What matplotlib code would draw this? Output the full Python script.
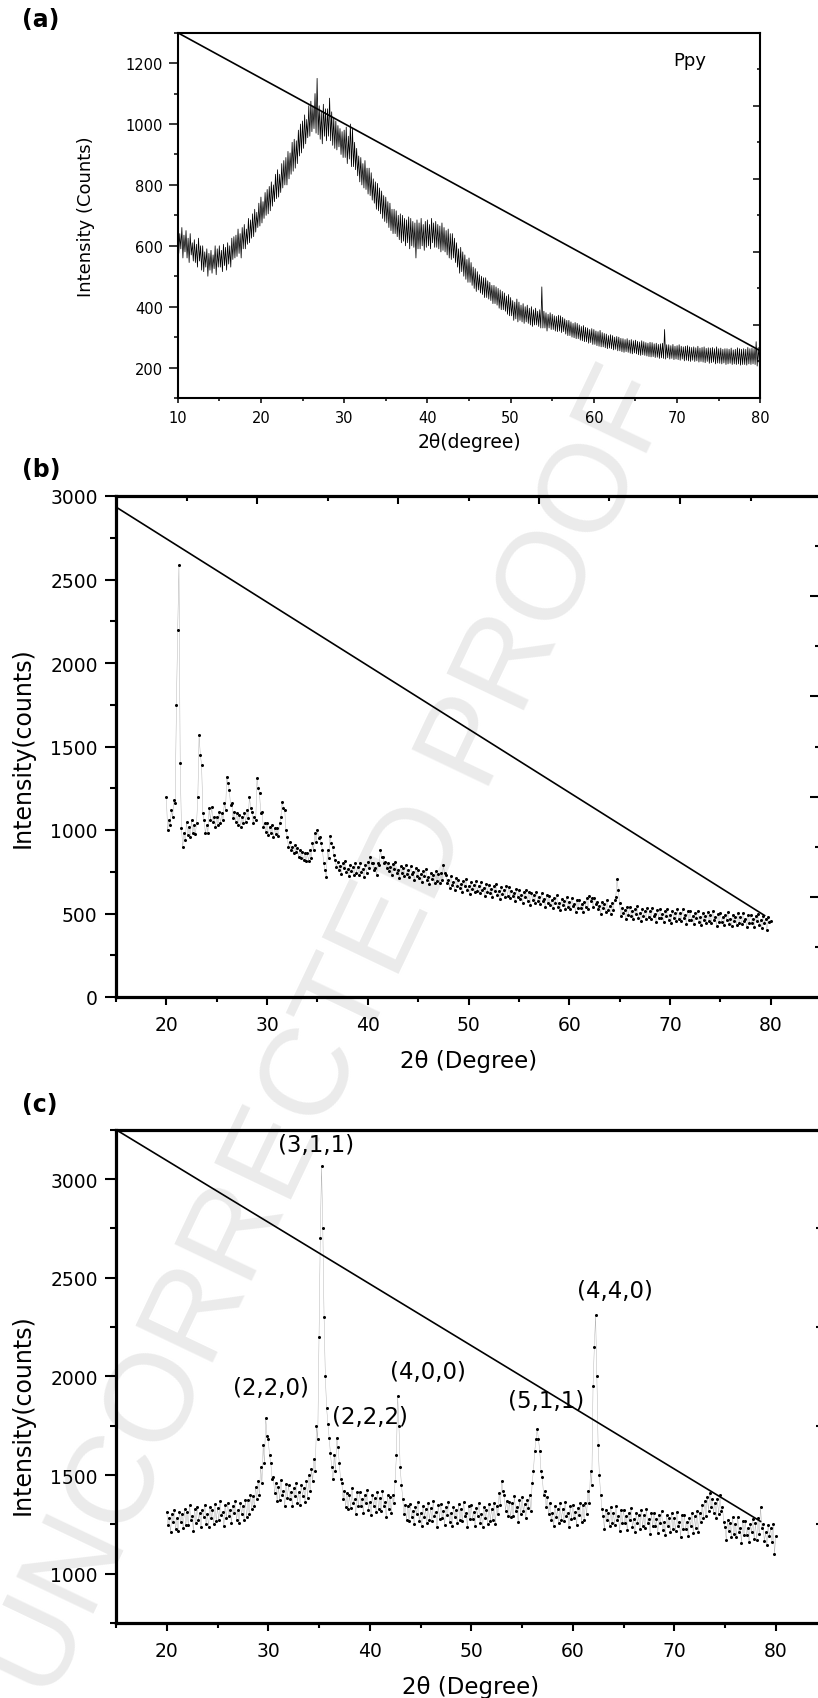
import matplotlib
matplotlib.use('Agg')
import matplotlib.pyplot as plt
import numpy as np
from matplotlib.ticker import MultipleLocator, FixedLocator

plt.rcParams['font.family'] = ['DejaVu Sans']

W, H = 818, 1699   # output size in pixels

# ---------------- data ----------------
# each scan is read as an upper trace (at 0.00/.25/.50/.75 deg)
# and a lower trace (at .125/.375/.625/.875 deg), one row per degree

# (a) Ppy, 10..80 deg
a_start = 10
a_up = [
    670, 640, 660, 635,  650, 625, 640, 610,  620, 605, 625, 600,  600, 580, 590, 575,
    585, 570, 600, 590,  600, 585, 605, 595,  610, 600, 625, 630,  635, 655, 640, 660,
    670, 655, 690, 685,  705, 720, 710, 740,  760, 745, 775, 785,  795, 810, 800, 835,
    850, 835, 870, 880,  890, 910, 905, 940,  950, 945, 980, 1000, 1010, 1030, 1015, 1060,
    1075, 1060, 1100, 1150, 1060, 1040, 1065, 1050, 1050, 1085, 1040, 1020, 1010, 995, 985, 975,
    980, 990, 960, 1000, 985, 940, 920, 895,  890, 870, 880, 855,  855, 840, 820, 810,
    805, 790, 780, 765,  760, 745, 740, 720,  720, 715, 700, 705,  700, 690, 685, 695,
    690, 680, 675, 685,  675, 690, 670, 680,  685, 670, 690, 675,  680, 670, 665, 675,
    660, 650, 655, 640,  640, 625, 610, 590,  595, 580, 570, 555,  560, 545, 530, 525,
    515, 505, 500, 495,  495, 485, 480, 470,  470, 465, 460, 455,  450, 445, 435, 440,
    430, 420, 415, 425,  415, 405, 410, 400,  405, 395, 400, 390,  395, 385, 390, 465,
    385, 380, 375, 380,  375, 370, 368, 372,  370, 365, 360, 355,  355, 350, 345, 348,
    345, 340, 335, 338,  332, 330, 325, 328,  325, 320, 318, 322,  315, 312, 310, 305,
    308, 305, 300, 302,  300, 296, 295, 292,  295, 290, 292, 288,  290, 286, 284, 288,
    285, 282, 280, 283,  282, 278, 280, 276,  278, 280, 325, 275,  275, 272, 276, 270,
    272, 275, 270, 268,  270, 272, 268, 266,  268, 265, 270, 264,  266, 268, 263, 265,
    264, 266, 262, 268,  262, 264, 260, 262,  262, 260, 264, 258,  260, 265, 262, 260,
    262, 260, 266, 262,  264, 262, 285, 266,  250]
a_lo = [
    575, 590, 560, 580,  560, 545, 570, 550,  545, 530, 550, 520,  515, 530, 500, 520,
    510, 525, 505, 530,  530, 515, 535, 520,  540, 530, 555, 560,  565, 575, 560, 590,
    590, 605, 610, 625,  630, 645, 660, 665,  675, 690, 700, 705,  715, 730, 745, 755,
    760, 775, 790, 800,  800, 820, 835, 845,  855, 870, 895, 905,  920, 935, 955, 960,
    975, 985, 970, 965,  950, 935, 960, 945,  960, 945, 930, 920,  915, 925, 900, 890,
    890, 870, 885, 860,  860, 850, 830, 810,  800, 790, 785, 770,  765, 750, 740, 720,
    715, 705, 690, 680,  675, 660, 650, 640,  640, 630, 620, 610,  615, 600, 610, 590,
    600, 595, 560, 590,  590, 600, 585, 595,  600, 590, 610, 595,  595, 590, 580, 585,
    580, 570, 560, 555,  560, 545, 530, 510,  515, 500, 490, 480,  480, 470, 460, 450,
    455, 445, 440, 430,  430, 425, 420, 410,  410, 405, 395, 390,  390, 385, 375, 370,
    370, 355, 360, 350,  355, 350, 345, 350,  345, 340, 335, 340,  340, 335, 330, 330,
    330, 320, 330, 325,  325, 320, 318, 320,  315, 318, 310, 305,  305, 300, 298, 295,
    295, 290, 288, 285,  285, 280, 282, 276,  276, 272, 270, 268,  268, 265, 262, 264,
    262, 258, 260, 255,  255, 252, 250, 252,  250, 247, 245, 248,  245, 242, 240, 242,
    240, 238, 236, 235,  236, 233, 234, 230,  232, 230, 228, 232,  228, 230, 226, 228,
    226, 224, 228, 222,  224, 222, 220, 224,  220, 222, 218, 220,  218, 216, 220, 214,
    216, 218, 212, 215,  214, 212, 215, 210,  212, 214, 210, 212,  210, 212, 208, 210,
    210, 208, 212, 210,  212, 210, 205, 215]
line_a_x = [10, 80]
line_a_y = [1300, 255]

# (b) 20..80 deg
b_start = 20
b_up = [
    1200, 1060, 1120, 1180,  1750, 2585, 1010, 980,   1050, 1020, 1060, 1030,  1040, 1570, 1390, 1060,
    1030, 1130, 1140, 1080,  1080, 1110, 1100, 1160,  1320, 1240, 1160, 1110,  1100, 1090, 1080, 1100,
    1120, 1200, 1110, 1080,  1310, 1220, 1110, 1040,  1040, 1020, 1030, 1010,  1010, 1040, 1170, 1120,
    960, 930, 900, 910,      890, 880, 870, 860,      860, 880, 920, 980,     1000, 960, 880, 760,
    880, 965, 900, 820,      810, 785, 800, 815,      767, 792, 777, 800,     778, 800, 766, 788,
    810, 840, 800, 770,      800, 880, 840, 810,      805, 780, 795, 810,     760, 785, 770, 793,
    762, 784, 750, 772,      763, 738, 753, 768,      720, 745, 730, 753,     735, 740, 790, 730,
    700, 722, 688, 710,      703, 678, 693, 708,      662, 687, 672, 695,     667, 689, 655, 677,
    672, 647, 662, 677,      632, 657, 642, 665,      660, 637, 623, 645,     638, 613, 628, 643,
    630, 623, 608, 631,      600, 622, 588, 610,      603, 578, 593, 608,     563, 588, 573, 596,
    570, 592, 558, 580,      580, 555, 570, 590,      605, 590, 595, 570,     545, 570, 555, 578,
    545, 565, 580, 705,      560, 532, 518, 540,      538, 513, 528, 543,     502, 527, 512, 535,
    512, 534, 500, 522,      524, 499, 514, 529,      491, 516, 501, 524,     502, 524, 490, 512,
    512, 487, 502, 517,      478, 503, 488, 511,      490, 512, 478, 500,     502, 477, 492, 507,
    469, 494, 479, 502,      481, 503, 469, 491,      493, 468, 483, 498,     460, 485, 470, 480,
    455]
b_lo = [
    1000, 1030, 1080, 1160,  2200, 1400, 900, 940,    970, 960, 985, 975,     1200, 1450, 1100, 980,
    985, 1060, 1050, 1020,   1030, 1040, 1060, 1120,  1280, 1150, 1070, 1050,  1030, 1020, 1040, 1045,
    1070, 1130, 1040, 1060,  1250, 1100, 1020, 990,   970, 980, 960, 975,     965, 1080, 1130, 1000,
    900, 880, 860, 870,      840, 830, 820, 815,      815, 830, 880, 930,     950, 920, 800, 720,
    830, 920, 850, 780,      760, 737, 770, 747,      722, 752, 732, 742,     733, 750, 716, 740,
    770, 800, 760, 730,      790, 840, 800, 770,      755, 732, 765, 742,     715, 745, 725, 735,
    717, 734, 700, 724,      713, 690, 723, 700,      675, 705, 685, 695,     685, 700, 740, 680,
    655, 672, 638, 662,      653, 630, 663, 640,      617, 647, 627, 637,     622, 639, 605, 629,
    622, 599, 632, 609,      587, 617, 597, 607,      590, 607, 573, 597,     588, 565, 598, 575,
    553, 583, 563, 573,      555, 572, 538, 562,      553, 530, 563, 540,     518, 548, 528, 538,
    525, 542, 508, 532,      530, 507, 540, 525,      575, 540, 555, 525,     500, 530, 510, 520,
    500, 520, 600, 640,      485, 502, 468, 492,      488, 465, 498, 475,     457, 487, 467, 477,
    467, 484, 450, 474,      474, 451, 484, 461,      446, 476, 456, 466,     457, 474, 440, 464,
    462, 439, 472, 449,      433, 463, 443, 453,      445, 462, 428, 452,     452, 429, 462, 439,
    424, 454, 434, 444,      436, 453, 419, 443,      443, 420, 453, 430,     415, 445, 400, 450]
line_b_x = [15, 79.4]
line_b_y = [2934, 488]

# (c) 20..80 deg
c_start = 20
c_up = [
    1315, 1280, 1300, 1325,  1280, 1315, 1300, 1330,  1312, 1347, 1292, 1327,  1340, 1305, 1325, 1350,
    1303, 1338, 1323, 1353,  1335, 1370, 1315, 1350,  1360, 1325, 1345, 1370,  1323, 1358, 1343, 1373,
    1375, 1400, 1395, 1440,  1470, 1540, 1650, 1790,  1680, 1560, 1490, 1460,  1438, 1473, 1418, 1453,
    1450, 1415, 1435, 1460,  1415, 1450, 1435, 1470,  1500, 1530, 1580, 1750,  2200, 3065, 2300, 1840,
    1690, 1540, 1600, 1690,  1560, 1460, 1420, 1410,  1398, 1433, 1378, 1413,  1412, 1377, 1397, 1422,
    1363, 1398, 1383, 1413,  1382, 1417, 1362, 1397,  1390, 1400, 1470, 1900,  1540, 1380, 1350, 1345,
    1355, 1320, 1340, 1365,  1307, 1342, 1327, 1357,  1332, 1367, 1312, 1347,  1352, 1317, 1337, 1362,
    1305, 1340, 1325, 1355,  1330, 1365, 1310, 1345,  1348, 1313, 1333, 1358,  1303, 1338, 1323, 1353,
    1330, 1360, 1345, 1410,  1470, 1400, 1370, 1365,  1358, 1393, 1338, 1373,  1388, 1353, 1373, 1400,
    1460, 1620, 1735, 1620,  1490, 1420, 1390, 1360,  1307, 1342, 1327, 1357,  1330, 1365, 1310, 1345,
    1350, 1315, 1335, 1360,  1350, 1360, 1420, 1520,  1950, 2310, 1650, 1400,  1290, 1325, 1310, 1340,
    1310, 1345, 1290, 1325,  1325, 1290, 1310, 1335,  1275, 1310, 1295, 1325,  1295, 1330, 1275, 1310,
    1310, 1275, 1295, 1320,  1260, 1295, 1280, 1310,  1280, 1315, 1260, 1295,  1297, 1262, 1282, 1307,
    1290, 1320, 1305, 1350,  1370, 1390, 1410, 1380,  1360, 1380, 1400, 1340,  1237, 1272, 1257, 1287,
    1252, 1287, 1232, 1267,  1265, 1230, 1250, 1275,  1255, 1280, 1340, 1250,  1210, 1245, 1230, 1250,
    1190]
c_lo = [
    1245, 1210, 1260, 1225,  1215, 1260, 1230, 1245,  1247, 1272, 1217, 1257,  1270, 1235, 1285, 1250,
    1238, 1283, 1253, 1268,  1270, 1295, 1240, 1280,  1290, 1255, 1305, 1270,  1258, 1303, 1273, 1288,
    1300, 1330, 1345, 1380,  1400, 1460, 1560, 1700,  1600, 1480, 1410, 1370,  1373, 1398, 1343, 1383,
    1380, 1345, 1395, 1360,  1350, 1395, 1365, 1385,  1420, 1470, 1520, 1680,  2700, 2750, 2000, 1760,
    1610, 1480, 1520, 1640,  1480, 1380, 1340, 1330,  1333, 1358, 1303, 1343,  1342, 1307, 1357, 1322,
    1298, 1343, 1313, 1328,  1317, 1342, 1287, 1327,  1305, 1360, 1600, 1750,  1450, 1300, 1270, 1265,
    1285, 1250, 1300, 1265,  1242, 1287, 1257, 1272,  1267, 1292, 1237, 1277,  1282, 1247, 1297, 1262,
    1240, 1285, 1255, 1270,  1265, 1290, 1235, 1275,  1278, 1243, 1293, 1258,  1238, 1283, 1253, 1268,
    1270, 1250, 1300, 1350,  1420, 1320, 1290, 1285,  1293, 1318, 1263, 1303,  1318, 1283, 1333, 1320,
    1520, 1680, 1680, 1520,  1400, 1340, 1300, 1270,  1242, 1287, 1257, 1272,  1265, 1290, 1235, 1275,
    1280, 1245, 1295, 1260,  1270, 1300, 1360, 1450,  2150, 2000, 1500, 1330,  1225, 1270, 1240, 1255,
    1245, 1270, 1215, 1255,  1255, 1220, 1270, 1235,  1210, 1255, 1225, 1240,  1230, 1255, 1200, 1240,
    1240, 1205, 1255, 1220,  1195, 1240, 1210, 1225,  1215, 1240, 1185, 1225,  1227, 1192, 1242, 1207,
    1230, 1210, 1260, 1280,  1290, 1320, 1340, 1310,  1280, 1300, 1320, 1260,  1172, 1217, 1187, 1202,
    1187, 1212, 1157, 1197,  1195, 1160, 1210, 1175,  1172, 1200, 1230, 1165,  1145, 1190, 1160, 1100]
line_c_x = [15, 78.5]
line_c_y = [3250, 1265]

peak_labels = ['(3,1,1)', '(2,2,0)', '(2,2,2)', '(4,0,0)', '(5,1,1)', '(4,4,0)']
peak_x = [34.67, 30.3, 39.98, 45.75, 57.4, 64.2]
peak_y = [3176, 1944, 1798, 2026, 1880, 2433]


def scan(start, up, lo):
    # merge the upper and lower traces back into one scan, 0.125 deg apart
    n = len(up) + len(lo)
    x = start + 0.125 * np.arange(n)
    y = np.empty(n)
    y[0::2] = up
    y[1::2] = lo
    return x, y


def px_axes(fig, l, t, r, b):
    # axes rectangle given in pixel edges (top-left origin)
    ax = fig.add_axes([l / W, 1 - b / H, (r - l) / W, (b - t) / H])
    ax.set_facecolor('none')
    return ax


def extra_ticks(ax, axis, maj_len, min_len, width):
    # Origin style extra layer: ticks at 0.1..0.9, pointing in, no labels
    if axis == 'y':
        tw = ax.twinx()
        tw.set_ylim(0, 1)
        tw.yaxis.set_major_locator(FixedLocator([0.2, 0.4, 0.6, 0.8]))
        tw.yaxis.set_minor_locator(FixedLocator([0.1, 0.3, 0.5, 0.7, 0.9]))
        tw.tick_params(axis='y', which='both', direction='in', labelright=False, width=width)
    else:
        tw = ax.twiny()
        tw.set_xlim(0, 1)
        tw.xaxis.set_major_locator(FixedLocator([0.2, 0.4, 0.6, 0.8]))
        tw.xaxis.set_minor_locator(FixedLocator([0.1, 0.3, 0.5, 0.7, 0.9]))
        tw.tick_params(axis='x', which='both', direction='in', labeltop=False, width=width)
    tw.tick_params(axis=axis, which='major', length=maj_len)
    tw.tick_params(axis=axis, which='minor', length=min_len)
    for s in tw.spines.values():
        s.set_visible(False)
    return tw


def style_bc(ax, ylo, yhi):
    ax.set_xlim(15, 85)
    ax.set_ylim(ylo, yhi)
    ax.xaxis.set_major_locator(MultipleLocator(10))
    ax.xaxis.set_minor_locator(MultipleLocator(5))
    ax.yaxis.set_major_locator(MultipleLocator(500))
    ax.yaxis.set_minor_locator(MultipleLocator(250))
    ax.tick_params(which='both', direction='out', top=False, right=False, labelsize=13.5, width=1.5)
    ax.tick_params(axis='y', which='major', length=7.7, pad=5.5)
    ax.tick_params(axis='y', which='minor', length=4.3)
    ax.tick_params(axis='x', which='major', length=5.7, pad=7)
    ax.tick_params(axis='x', which='minor', length=3.3)
    for s in ax.spines.values():
        s.set_linewidth(2.3)


fig = plt.figure(figsize=(W / 100, H / 100), dpi=100)

# watermark, behind everything
fig.text(335 / W, 1 - 1035 / H, 'UNCORRECTED PROOF', rotation=64.5, fontsize=90,
         color='#ebebeb', ha='center', va='center', zorder=-1,
         family=['Liberation Sans', 'DejaVu Sans'])

# ---------------- (a) ----------------
ax = px_axes(fig, 177.7, 33.7, 760.3, 399)
xa, ya = scan(a_start, a_up, a_lo)
ax.plot(xa, ya, color='black', lw=0.55)
ax.plot(line_a_x, line_a_y, color='black', lw=1.2)
ax.set_xlim(10, 80)
ax.set_ylim(100, 1300)
ax.xaxis.set_major_locator(MultipleLocator(10))
ax.xaxis.set_minor_locator(MultipleLocator(5))
ax.yaxis.set_major_locator(MultipleLocator(200))
ax.yaxis.set_minor_locator(MultipleLocator(100))
ax.tick_params(which='both', direction='out', top=False, right=False, labelsize=10.5, width=1.1)
ax.tick_params(axis='y', which='major', length=6.5, pad=4)
ax.tick_params(axis='y', which='minor', length=2.7)
ax.tick_params(axis='x', which='major', length=3.6, pad=5)
ax.tick_params(axis='x', which='minor', length=2)
for s in ax.spines.values():
    s.set_linewidth(1.5)
ax.set_xlabel('2θ(degree)', fontsize=13.5, va='center')
ax.xaxis.set_label_coords(0.5, -0.1204)
ax.set_ylabel('Intensity (Counts)', fontsize=13, va='center')
ax.yaxis.set_label_coords(-0.157, 0.5)
extra_ticks(ax, 'y', 5.3, 2.5, 1.1)
fig.text(690 / W, 1 - 61 / H, 'Ppy', ha='center', va='center', fontsize=13)
fig.text(22 / W, 1 - 20 / H, '(a)', ha='left', va='center', fontsize=17, fontweight='bold')

# ---------------- (b) ----------------
ax = px_axes(fig, 116, 497, 821, 998)
xb, yb = scan(b_start, b_up, b_lo)
ax.plot(xb, yb, color='#aaaaaa', lw=0.3, marker='o', ms=2.2, mfc='black', mec='black', mew=0)
ax.plot(line_b_x, line_b_y, color='black', lw=1.2)
style_bc(ax, 0, 3000)
ax.set_xlabel('2θ (Degree)', fontsize=16.5, va='center')
ax.xaxis.set_label_coords(0.5, -0.1277)
ax.set_ylabel('Intensity(counts)', fontsize=17, va='center')
ax.yaxis.set_label_coords(-0.133, 0.5)
extra_ticks(ax, 'y', 8, 4.5, 1.5)
extra_ticks(ax, 'x', 5.8, 3.6, 1.5)
fig.text(22 / W, 1 - 470 / H, '(b)', ha='left', va='center', fontsize=17, fontweight='bold')

# ---------------- (c) ----------------
ax = px_axes(fig, 116, 1130.7, 826.5, 1624)
xc, yc = scan(c_start, c_up, c_lo)
ax.plot(xc, yc, color='#aaaaaa', lw=0.3, marker='o', ms=2.2, mfc='black', mec='black', mew=0)
ax.plot(line_c_x, line_c_y, color='black', lw=1.2)
style_bc(ax, 750, 3250)
for lab, x, y in zip(peak_labels, peak_x, peak_y):
    ax.text(x, y, lab, ha='center', va='center', fontsize=16.5)
ax.set_xlabel('2θ (Degree)', fontsize=16.5, va='center')
ax.xaxis.set_label_coords(0.4996, -0.1297)
ax.set_ylabel('Intensity(counts)', fontsize=17, va='center')
ax.yaxis.set_label_coords(-0.131, 0.424)
extra_ticks(ax, 'y', 8, 4.5, 1.5)
fig.text(22 / W, 1 - 1105 / H, '(c)', ha='left', va='center', fontsize=17, fontweight='bold')

fig.savefig('out.png', dpi=100)
